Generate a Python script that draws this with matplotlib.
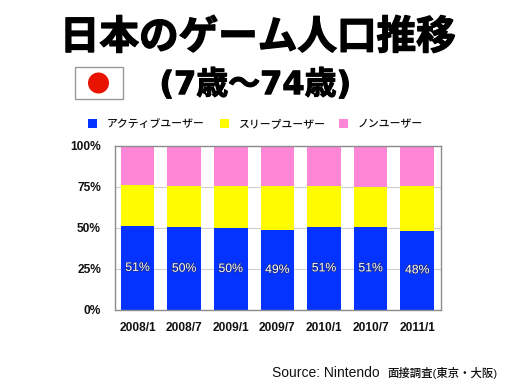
"""
Japan game population chart, stacked 100% bars with title, flag and source note.
"""
import matplotlib
matplotlib.use('Agg')
import matplotlib.pyplot as plt
import matplotlib.patheffects as pe
from matplotlib.patches import Rectangle, Circle

plt.rcParams['font.family'] = ['Liberation Sans', 'Noto Sans CJK JP', 'DejaVu Sans']

periods = ['2008/1', '2008/7', '2009/1', '2009/7', '2010/1', '2010/7', '2011/1']
active = [51.3, 50.3, 49.9, 48.7, 50.7, 50.7, 48.3]
sleep = [24.8, 25.2, 25.8, 26.8, 24.6, 23.9, 27.2]
non_user = [23.9, 24.5, 24.3, 24.5, 24.7, 25.4, 24.5]
active_labels = ['51%', '50%', '50%', '49%', '51%', '51%', '48%']
y_ticks = [0, 25, 50, 75, 100]
y_labels = ['0%', '25%', '50%', '75%', '100%']
legend_names = ['アクティブユーザー', 'スリープユーザー', 'ノンユーザー']

BLUE, YELLOW, PINK = '#0433ff', '#fffb00', '#ff85d6'
W, H = 512, 384

fig = plt.figure(figsize=(W/100, H/100), dpi=100, facecolor='white')

# chart placed by pixel box
L, R, T, B = 115, 441.3, 145.7, 310
ax = fig.add_axes([L/W, 1-B/H, (R-L)/W, (B-T)/H])
x = range(len(periods))
bottom2 = [a+s for a, s in zip(active, sleep)]
ax.bar(x, active, width=0.72, color=BLUE, zorder=3)
ax.bar(x, sleep, width=0.72, bottom=active, color=YELLOW, zorder=3)
ax.bar(x, non_user, width=0.72, bottom=bottom2, color=PINK, zorder=3)
ax.set_xlim(-0.483, 6.517)
ax.set_ylim(0, 100)
ax.set_xticks(list(x), periods)
ax.set_yticks(y_ticks, y_labels)
ax.tick_params(length=0)
ax.tick_params(axis='x', pad=8.5, labelsize=8.6)
ax.tick_params(axis='y', pad=10, labelsize=8.6)
for lab in ax.get_xticklabels() + ax.get_yticklabels():
    lab.set_fontweight('bold')
    lab.set_color('#111111')
ax.grid(axis='y', color='#d0d0d0', lw=0.8, zorder=1)
ax.set_axisbelow(True)
for sp in ax.spines.values():
    sp.set_color('#8c8c8c')
    sp.set_linewidth(1.0)
    sp.set_zorder(5)

# labels sit in the middle of the blue segment
for i, lab in enumerate(active_labels):
    ax.text(i, active[i]/2, lab, ha='center', va='center', color='white', fontsize=8.8, zorder=6,
            path_effects=[pe.withStroke(linewidth=1.0, foreground='#1a2a80')])

# overlay in pixel coordinates for the title block
ov = fig.add_axes([0, 0, 1, 1], facecolor='none')
ov.set_xlim(0, W)
ov.set_ylim(H, 0)
ov.axis('off')

ov.text(258, 38, '日本のゲーム人口推移', ha='center', va='center', fontsize=28.5,
        fontweight='bold', color='black',
        path_effects=[pe.withStroke(linewidth=1.0, foreground='black')])
ov.text(255.5, 85, '(7歳〜74歳)', ha='center', va='center', fontsize=23,
        fontweight='bold', color='black', family=['DejaVu Sans', 'Noto Sans CJK JP'],
        path_effects=[pe.withStroke(linewidth=0.8, foreground='black')])

ov.add_patch(Rectangle((74.5, 67), 48, 31.5, fc='white', ec='#999999', lw=1.0))
ov.add_patch(Circle((98.5, 83), 10.5, fc='#e81400', ec='none'))

for sx, tx, col, name in zip([88, 219.5, 339], [107, 238, 358], [BLUE, YELLOW, PINK], legend_names):
    ov.add_patch(Rectangle((sx, 119), 9, 9, fc=col, ec='none'))
    ov.text(tx, 124.5, name, ha='left', va='center', fontsize=7.8, color='#111111',
            fontweight='medium')

# latin part is set larger than the japanese part in the original
ov.text(272, 373, 'Source: Nintendo', ha='left', va='center', fontsize=10, color='#111111')
ov.text(387, 373, '面接調査(東京・大阪)', ha='left', va='center', fontsize=8.2, color='#111111',
        fontweight='medium')

fig.savefig('out.png', dpi=100, facecolor='white')
